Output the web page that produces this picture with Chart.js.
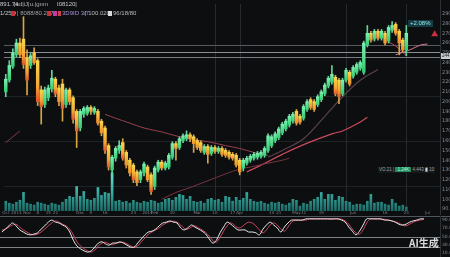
<!DOCTYPE html>
<html><head><meta charset="utf-8">
<script src="https://cdn.jsdelivr.net/npm/chart.js@4.4.1/dist/chart.umd.min.js"></script>
<style>
html,body{margin:0;padding:0;background:#0c0e10;width:450px;height:257px;overflow:hidden;}
#wrap{position:relative;width:450px;height:257px;}
canvas{position:absolute;left:0;}
#cMain{top:0;}
#cOsc{top:216px;}
.t{position:absolute;white-space:nowrap;font-family:"Liberation Sans",sans-serif;font-size:6px;line-height:7px;color:#c3c8cc;}
.box{position:absolute;height:5px;}
</style></head>
<body><div id="wrap">
<canvas id="cMain" width="450" height="215"></canvas>
<canvas id="cOsc" width="450" height="41"></canvas>
<div class="t" style="left:0;top:1px;">891.74</div>
<div class="t" style="left:14px;top:1px;color:#aeb3b7;">|ad|iJ|u.|gıım</div>
<div class="t" style="left:57px;top:1px;">I08120|</div>
<div class="t" style="left:0;top:10px;">1/25D</div>
<div class="box" style="left:11px;top:11px;width:4px;background:#c8323c;"></div>
<div class="t" style="left:17px;top:10px;color:#9ea4a8;">| 8088/80.287</div>
<div class="box" style="left:47px;top:11px;width:4px;background:#c8323c;"></div>
<div class="box" style="left:53px;top:11px;width:4px;background:#c03aa8;"></div>
<div class="box" style="left:58px;top:11px;width:3px;background:#d0404a;"></div>
<div class="t" style="left:62px;top:10px;color:#a890d8;">3D9ID 3/7</div>
<div class="t" style="left:85px;top:10px;color:#b8bdc1;">| 100.020</div>
<div class="box" style="left:108px;top:11px;width:4px;background:#d8dadc;"></div>
<div class="t" style="left:113px;top:10px;color:#b8bdc1;">96/18/80</div>
<div class="t" style="left:408px;top:20px;font-size:6px;color:#8fe8e4;background:rgba(30,95,105,0.55);padding:0 2px;">+2.08%</div>
<div class="t" style="left:378px;top:167px;font-size:4.5px;line-height:6px;color:#9aa0a5;background:#15191c;padding:0 1px;">VO.21 | <span style="background:#1f8a5a;color:#c9f5df;padding:0 2px;">1.24K</span> 4.443 <span style="background:#3a4046;color:#d0d4d6;">▮</span> 10</div>
<div class="t" style="left:441px;top:53px;font-size:4.5px;line-height:6px;color:#1a1c1e;background:#c9cdd0;padding:0 1px;">244</div>
<div class="t" style="left:409px;top:237px;font-family:'Noto Sans CJK SC',sans-serif;font-size:10px;line-height:12px;color:rgba(236,236,236,0.92);font-weight:600;">AI生成</div>
</div>
<script>
// ---- data (price units) ----
const candleOpen = [210,222,236,248,260,264,245,237,250,242,212,197,204,213,223,214,218,197,212,204,190,173,187,188,194,189,190,180,173,155,130,142,150,158,148,140,135,128,120,127,133,125,113,130,138,132,133,143,157,153,160,162,166,164,160,158,148,154,147,153,149,152,150,148,146,145,140,132,137,140,142,143,144,145,150,155,160,163,168,172,176,180,190,185,183,192,202,200,197,202,208,216,220,225,222,208,222,230,226,230,234,230,258,270,264,272,265,270,262,273,279,272,263,253];
const candleHigh = [228,242,254,264,265,287,253,250,255,244,216,215,217,232,225,217,223,214,214,206,192,192,195,196,196,195,192,182,175,157,145,154,160,162,150,142,137,130,130,138,135,127,134,140,140,139,147,159,159,164,167,170,168,166,162,160,156,156,155,155,154,154,152,150,148,147,142,142,144,146,148,149,150,154,167,166,169,174,179,182,187,189,192,187,197,202,204,202,207,212,219,226,237,227,224,224,234,232,237,240,242,262,278,272,274,274,274,272,278,282,281,274,265,278];
const candleLow = [205,220,234,246,245,234,207,234,238,196,177,194,201,210,205,196,180,194,197,178,153,170,184,186,187,187,176,165,147,130,125,139,147,140,132,124,117,114,117,124,118,105,110,128,130,130,131,141,140,151,158,160,159,148,151,148,146,137,145,147,147,144,143,141,140,133,125,129,135,138,140,141,142,143,148,153,158,161,166,170,174,178,176,177,181,190,192,190,195,200,206,214,218,206,198,206,220,216,224,228,232,228,256,261,262,263,263,258,260,271,268,248,251,247];
const candleClose = [223,237,250,260,248,238,222,247,240,200,195,212,214,224,208,200,193,212,200,182,170,190,193,194,190,193,178,168,150,133,143,152,155,142,135,127,120,117,128,136,120,108,132,138,132,137,145,157,152,162,165,166,162,157,153,150,154,146,153,149,152,146,145,143,142,135,128,140,142,144,146,147,148,152,165,164,167,172,177,180,185,187,178,179,195,200,194,192,205,210,217,224,228,208,205,222,232,218,235,238,240,260,270,263,272,265,272,260,276,278,270,260,253,270];
const volume = [10,8,7,9,11,19,8,7,6,9,8,7,6,8,7,6,9,12,15,14,25,15,20,12,11,13,24,16,19,18,39,10,11,9,10,8,11,9,8,10,9,11,10,8,9,12,13,11,14,17,16,12,15,10,9,10,8,12,13,11,12,9,15,14,10,14,11,13,19,12,10,9,10,8,7,9,8,9,7,6,8,12,11,5,8,7,10,12,14,19,12,17,17,11,15,14,10,9,6,7,7,6,10,17,8,9,9,7,6,12,8,5,6,4];
const oscK = [61,68,76,83,76,66,61,56,54,56,59,68,76,85,90,85,83,78,73,61,41,27,20,15,12,15,24,34,37,32,29,34,34,37,34,29,24,24,34,44,54,61,63,68,76,83,85,88,85,83,71,66,71,78,73,68,63,56,44,34,41,59,73,85,80,73,66,66,66,61,61,59,54,68,78,85,78,71,61,73,83,90,90,90,90,93,93,93,93,93,93,93,93,93,93,90,85,73,63,54,63,78,93,93,93,93,93,90,90,88,85,80,78,80,85,88,90,93,93];
const oscD = [66,68,73,78,80,73,66,61,56,54,56,61,68,76,83,88,85,80,76,68,54,37,27,20,15,12,17,27,34,36,32,30,34,35,36,32,27,24,27,37,46,56,61,66,71,78,83,86,87,85,78,70,68,73,76,71,66,60,51,40,36,48,63,76,83,78,71,73,80,85,83,76,66,59,66,78,83,78,68,63,73,85,90,90,90,90,93,93,93,93,93,93,92,93,93,92,88,80,68,59,56,66,83,93,93,93,92,92,90,88,86,83,78,76,80,85,88,90,92];
// moving-average readings: [slot index, price]
const maSlowA = [[0,158],[2,164],[4,170]];
const maSlowB = [[28,187],[31,183],[35,178],[39,173],[44,169],[48,165],[53,161],[57,159],[62,155],[66,152],[70,148],[74,145]];
const maMid   = [[44,100],[48,107],[52,112],[57,119],[62,126],[66,131],[69,133],[74,137],[78,140],[80,142]];
const maFast  = [[74,143],[78,150],[84,162],[90,185],[95,205],[100,222],[105,233]];
const maRed   = [[68,128],[72,135],[78,146],[84,156],[92,167],[95,170],[99,177],[102,184]];
const maPink  = [[110,248],[114,253],[117,258],[119,259]];
const maPink2 = [[108,261],[110,257],[113,247]];
const markerIdx = 121, markerPrice = 269;
const levelPrices = [258, 251, 246];
const levelColors = ['#555b61','#8a9095','#767c82'];
const gridPrices = [206, 160, 114];
const vLineIdx = [59, 66, 96, 113];
const priceTicks = [290,280,270,260,250,240,230,220,210,200,190,180,170,160,150,140,130,120,110,100,90];
const oscTicks = [90,70,50,30,10];
const oscLevels = [50, 25];
const xTickIdx  = [0,3,6,9,12,14,21,24,28,36,40,42,47,54,59,64,66,75,77,82,84,89,98,107,113,119];
const xTickText = ['Oct','2013','Nov','8','15','22','Dec','9','16','23','2014','Feb','10','Mar','10','17','Apr','14','21','May','12','19','Jun','16','23','Jul'];

const N = 123;
const categories = Array.from({length: N}, (_, i) => String(i));
function sparse(pairs){ const a = new Array(N).fill(null); pairs.forEach(([i,v]) => a[i] = v); return a; }
const bodies = candleOpen.map((o,i) => [o, candleClose[i]]);
const wicks = candleLow.map((l,i) => [l, candleHigh[i]]);
const isUp = i => candleClose[i] >= candleOpen[i];

function bodyColor(ctx){
  const i = ctx.dataIndex, chart = ctx.chart, a = chart.chartArea;
  const up = isUp(i);
  if (!a) return up ? '#45e08a' : '#f2b53a';
  const y = chart.scales.y;
  const t = y.getPixelForValue(Math.max(candleOpen[i], candleClose[i]));
  const b = y.getPixelForValue(Math.min(candleOpen[i], candleClose[i]));
  const g = chart.ctx.createLinearGradient(0, t, 0, b + 1);
  if (up) { g.addColorStop(0, '#7cefb0'); g.addColorStop(1, '#2ecb6c'); }
  else { const h = b - t; g.addColorStop(0, '#f9d84c'); g.addColorStop(0.6, '#f3a633'); g.addColorStop(1, h > 14 ? '#e24a2c' : '#ee8a2e'); }
  return g;
}
function volColor(ctx){
  const a = ctx.chart.chartArea;
  if (!a) return '#2fa69d';
  const g = ctx.chart.ctx.createLinearGradient(0, a.bottom - 40, 0, a.bottom);
  g.addColorStop(0, '#74e4da'); g.addColorStop(0.5, '#3bb0a6'); g.addColorStop(1, '#1b6a65');
  return g;
}
function lineDs(pairs, color, w){
  return {type:'line', data: sparse(pairs), yAxisID:'y', borderColor: color, borderWidth: w, pointRadius: 0, tension: 0.35, spanGaps: true, order: 3};
}

const mainDeco = {
  id: 'mainDeco',
  beforeDatasetsDraw(chart){
    const {ctx, chartArea: a, scales: {x, y}} = chart;
    ctx.save(); ctx.lineWidth = 1;
    ctx.strokeStyle = '#1e2327';
    gridPrices.forEach(p => { const py = Math.round(y.getPixelForValue(p)) + 0.5; ctx.beginPath(); ctx.moveTo(a.left, py); ctx.lineTo(a.right, py); ctx.stroke(); });
    ctx.strokeStyle = '#252a2f';
    vLineIdx.forEach(i => { const px = Math.round(x.getPixelForValue(i)) + 0.5; ctx.beginPath(); ctx.moveTo(px, a.top); ctx.lineTo(px, a.bottom); ctx.stroke(); });
    levelPrices.forEach((p, k) => { ctx.strokeStyle = levelColors[k]; const py = Math.round(y.getPixelForValue(p)) + 0.5; ctx.beginPath(); ctx.moveTo(a.left, py); ctx.lineTo(a.right, py); ctx.stroke(); });
    ctx.restore();
  },
  afterDraw(chart){
    const {ctx, chartArea: a, scales: {x, y}} = chart;
    ctx.save();
    ctx.strokeStyle = '#2c3136'; ctx.lineWidth = 1;
    ctx.beginPath(); ctx.moveTo(a.right + 0.5, 0); ctx.lineTo(a.right + 0.5, chart.height); ctx.stroke();
    ctx.font = '5px "DejaVu Sans"'; ctx.fillStyle = '#868c92'; ctx.textBaseline = 'middle'; ctx.textAlign = 'left';
    priceTicks.forEach(p => ctx.fillText(p.toFixed(1), a.right + 2, y.getPixelForValue(p)));
    ctx.font = '4px "DejaVu Sans"'; ctx.fillStyle = '#7b8188'; ctx.textAlign = 'center';
    xTickIdx.forEach((i, k) => ctx.fillText(xTickText[k], x.getPixelForValue(i), a.bottom + 1.5));
    ctx.restore();
  }
};

new Chart(document.getElementById('cMain'), {
  type: 'bar',
  data: {
    labels: categories,
    datasets: [
      {type:'bar', data: bodies, yAxisID:'y', backgroundColor: bodyColor, barThickness: 2.8, grouped: false, minBarLength: 1, borderSkipped: false, order: 0},
      {type:'bar', data: wicks, yAxisID:'y', backgroundColor: ctx => isUp(ctx.dataIndex) ? '#64d49c' : '#d9a444', barThickness: 1, grouped: false, order: 1},
      {type:'bar', data: volume, yAxisID:'yv', backgroundColor: volColor, barThickness: 2, grouped: false, order: 5},
      lineDs(maSlowA, '#8a3946', 1),
      lineDs(maSlowB, '#9a4050', 1),
      lineDs(maMid, '#7a3440', 1),
      lineDs(maFast, '#5a4248', 1.2),
      lineDs(maRed, '#cc4a5e', 1.2),
      lineDs(maPink, '#d77a8a', 1),
      lineDs(maPink2, '#b8485a', 1),
      {type:'line', data: sparse([[markerIdx, markerPrice]]), yAxisID:'y', showLine: false, pointStyle: 'triangle', rotation: 120, pointRadius: 4, pointBackgroundColor: '#c8303e', pointBorderWidth: 0, order: 2}
    ]
  },
  options: {
    responsive: false, animation: false, devicePixelRatio: 1,
    layout: {padding: 0},
    plugins: {legend: {display: false}, tooltip: {enabled: false}},
    scales: {
      x: {type:'category', offset: true, grid: {display: false}, border: {display: false}, ticks: {display: false}, afterFit: s => { s.height = 3; }},
      y: {position:'right', min: 88, max: 300, grid: {display: false}, border: {display: false}, ticks: {display: false}, afterFit: s => { s.width = 10; }},
      yv: {display: false, min: 0, max: 212}
    }
  },
  plugins: [mainDeco]
});

const oscDeco = {
  id: 'oscDeco',
  beforeDatasetsDraw(chart){
    const {ctx, chartArea: a, scales: {y}} = chart;
    ctx.save(); ctx.lineWidth = 1;
    ctx.strokeStyle = '#50565c';
    ctx.beginPath(); ctx.moveTo(0, 0.5); ctx.lineTo(chart.width, 0.5); ctx.stroke();
    ctx.strokeStyle = '#7d8489';
    oscLevels.forEach(v => { const py = Math.round(y.getPixelForValue(v)) + 0.5; ctx.beginPath(); ctx.moveTo(a.left, py); ctx.lineTo(a.right, py); ctx.stroke(); });
    ctx.restore();
  },
  afterDraw(chart){
    const {ctx, chartArea: a, scales: {y}} = chart;
    ctx.save();
    ctx.strokeStyle = '#2c3136'; ctx.lineWidth = 1;
    ctx.beginPath(); ctx.moveTo(a.right + 0.5, 0); ctx.lineTo(a.right + 0.5, chart.height); ctx.stroke();
    ctx.font = '4.5px "DejaVu Sans"'; ctx.fillStyle = '#868c92'; ctx.textBaseline = 'middle';
    oscTicks.forEach(v => ctx.fillText(v.toFixed(1), a.right + 2, y.getPixelForValue(v)));
    ctx.restore();
  }
};

new Chart(document.getElementById('cOsc'), {
  type: 'line',
  data: {
    labels: categories,
    datasets: [
      {data: oscK, borderColor: '#ebebec', borderWidth: 1, pointRadius: 0, tension: 0.35, order: 0},
      {data: oscD, borderColor: '#d0465e', borderWidth: 1, pointRadius: 0, tension: 0.35, order: 1}
    ]
  },
  options: {
    responsive: false, animation: false, devicePixelRatio: 1,
    layout: {padding: 0},
    plugins: {legend: {display: false}, tooltip: {enabled: false}},
    scales: {
      x: {type:'category', offset: true, display: false},
      y: {position:'right', min: 0, max: 100, grid: {display: false}, border: {display: false}, ticks: {display: false}, afterFit: s => { s.width = 10; }}
    }
  },
  plugins: [oscDeco]
});
</script>
</body></html>
